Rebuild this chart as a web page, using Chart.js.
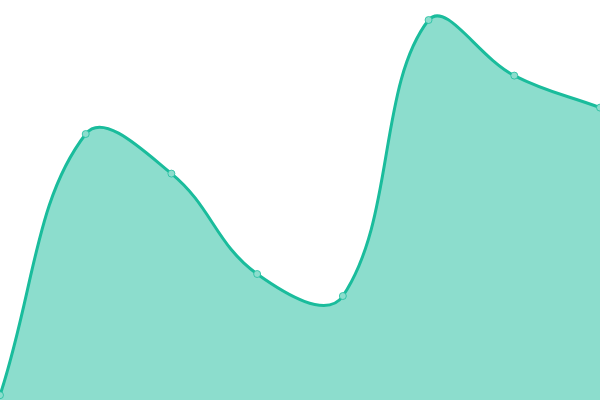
<!DOCTYPE html>
<html>
<head>
<meta charset="utf-8">
<script src="https://cdn.jsdelivr.net/npm/chart.js@4/dist/chart.umd.min.js"></script>
<style>
  html, body { margin: 0; padding: 0; background: #fff; }
  canvas { display: block; }
</style>
</head>
<body>
<canvas id="chart-area" width="600" height="400"></canvas>
<script>
// values (scale 0..100)
var labels = ['1', '2', '3', '4', '5', '6', '7', '8'];
var values = [1.2, 66.5, 56.6, 31.5, 26, 95, 81.1, 73.1];

var lineColor = '#1abc9c';
var fillColor = 'rgba(26,188,156,0.5)';

var ctx = document.getElementById('chart-area').getContext('2d');
window.myLine = new Chart(ctx, {
	type: 'line',
	data: {
		labels: labels,
		datasets: [{
			data: values,
			borderColor: lineColor,
			backgroundColor: fillColor,
			pointBackgroundColor: 'rgba(140,221,205,1)',
			pointBorderColor: 'rgba(26,188,156,0.75)',
			pointBorderWidth: 1,
			pointRadius: 3.5,
			borderWidth: 3,
			tension: 0.4,
			fill: true
		}]
	},
	options: {
		responsive: false,
		animation: false,
		layout: { padding: 0, autoPadding: false },
		plugins: {
			legend: { display: false },
			tooltip: { enabled: false }
		},
		scales: {
			x: { display: false, offset: false },
			y: { display: false, min: 0, max: 100 }
		}
	}
});
</script>
</body>
</html>
